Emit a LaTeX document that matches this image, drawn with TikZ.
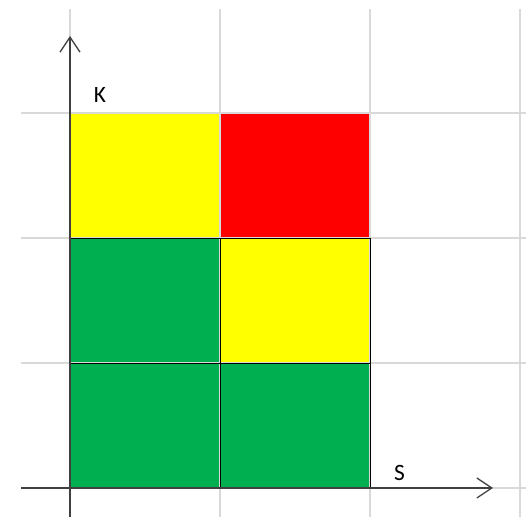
\documentclass[tikz,border=0pt]{standalone}
\usepackage{fontspec}
\setmainfont{Carlito}
\usetikzlibrary{arrows.meta}

\definecolor{okgreen}{HTML}{00B050}
\definecolor{warnyellow}{HTML}{FFFF00}
\definecolor{badred}{HTML}{FF0000}
\definecolor{gridgray}{HTML}{D9D9D9}
\definecolor{axisgray}{HTML}{404040}

\begin{document}
\begin{tikzpicture}[x=4.5cm, y=3.75cm,
    gridline/.style={gridgray, line width=1.2pt},
    cellline/.style={black, line width=0.8pt},
    axisline/.style={axisgray, line width=1.3pt,
      -{Straight Barb[length=0.45cm, width=0.6cm, line width=1.1pt]}},
    axislabel/.style={font=\fontsize{20}{24}\selectfont, text=black}]
        \useasboundingbox (-0.4667, -0.232) rectangle (3.04, 3.904);
        % cells
        \fill[okgreen] (0, 0) rectangle (2, 1);
        \fill[okgreen] (0, 1) rectangle (1, 2);
        \fill[warnyellow] (1, 1) rectangle (2, 2);
        \fill[warnyellow] (0, 2) rectangle (1, 3);
        \fill[badred] (1, 2) rectangle (2, 3);
        % grid
        \foreach \gx in {0, 1, 2, 3}
          \draw[gridline] (\gx, -0.232) -- (\gx, 3.832);
        \foreach \gy in {0, 1, 2, 3}
          \draw[gridline] (-0.3267, \gy) -- (3.04, \gy);
        \draw[cellline, xstep=4.5cm, ystep=3.75cm] (0, 0) grid (2, 2);
        % axes
        \coordinate (xstart) at (-0.3267, 0);
        \coordinate (xend) at (2.82, 0);
        \coordinate (ystart) at (0, -0.232);
        \coordinate (yend) at (0, 3.616);
        \draw[axisline] (xstart) -- (xend);
        \draw[axisline] (ystart) -- (yend);
        \node[axislabel] (klabel) at (0.2, 3.144) {K};
        \node[axislabel] (slabel) at (2.197, 0.124) {S};
      \end{tikzpicture}
\end{document}
